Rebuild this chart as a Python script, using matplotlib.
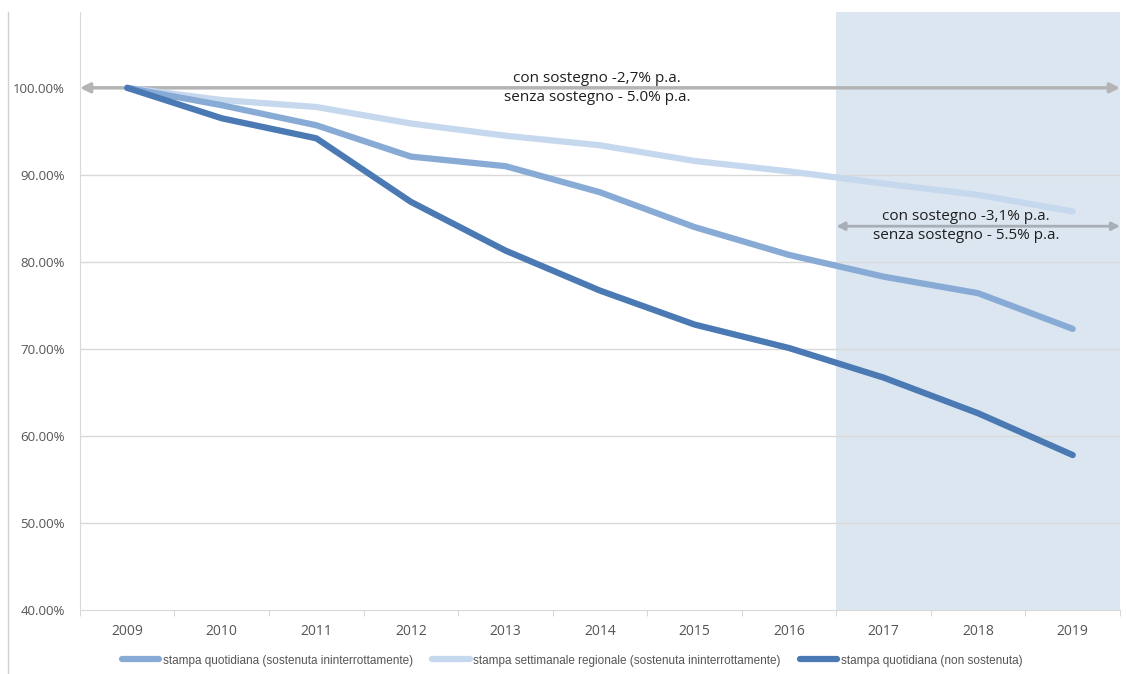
import numpy as np
import matplotlib
matplotlib.use('Agg')
import matplotlib.pyplot as plt
from matplotlib.lines import Line2D
from matplotlib.ticker import FuncFormatter, FixedLocator

# Data (index 2009 = 100%)
anni = ['2009', '2010', '2011', '2012', '2013', '2014', '2015', '2016', '2017', '2018', '2019']
quot_sost = [100.0, 98.0, 95.7, 92.1, 91.0, 88.0, 84.0, 80.8, 78.3, 76.4, 72.3]
sett_sost = [100.0, 98.6, 97.8, 95.9, 94.5, 93.4, 91.6, 90.4, 89.0, 87.7, 85.8]
quot_non = [100.0, 96.5, 94.2, 86.9, 81.3, 76.7, 72.8, 70.1, 66.7, 62.6, 57.8]

etichette = ['stampa quotidiana (sostenuta ininterrottamente)',
             'stampa settimanale regionale (sostenuta ininterrottamente)',
             'stampa quotidiana (non sostenuta)']
colori = ['#88abd6', '#c6d8ed', '#4a79b3']

testo_tutto = 'con sostegno -2,7% p.a.\nsenza sostegno - 5.0% p.a.'
testo_ultimi = 'con sostegno -3,1% p.a.\nsenza sostegno - 5.5% p.a.'
livello_freccia2 = 84.1

plt.rcParams['font.family'] = ['Open Sans', 'DejaVu Sans']

fig = plt.figure(figsize=(11.26, 6.74), dpi=100)
ax = fig.add_axes([0.071, 0.095, 0.9237, 0.887])

x = np.arange(len(anni))

# shaded period 2017-2019
ax.axvspan(7.5, 10.5, color='#dce6f0', zorder=0, lw=0)

# gridlines
for g in [50, 60, 70, 80, 90]:
    ax.axhline(g, color='#d9d9d9', lw=1, zorder=1)

l1, = ax.plot(x, quot_sost, color=colori[0], lw=4.5, solid_capstyle='round', zorder=4, label=etichette[0])
l2, = ax.plot(x, sett_sost, color=colori[1], lw=4.5, solid_capstyle='round', zorder=3, label=etichette[1])
l3, = ax.plot(x, quot_non, color=colori[2], lw=4.5, solid_capstyle='round', zorder=5, label=etichette[2])

# arrows
ax.annotate('', xy=(-0.5, 100), xytext=(10.5, 100),
            arrowprops=dict(arrowstyle='<|-|>', color='#b4b4b4', lw=2.5,
                            shrinkA=0, shrinkB=0, mutation_scale=14), zorder=2)
ax.text(4.97, 100, testo_tutto, ha='center', va='center', fontsize=11,
        color='#1e1e1e', linespacing=1.35, zorder=6)

ax.annotate('', xy=(7.5, livello_freccia2), xytext=(10.5, livello_freccia2),
            arrowprops=dict(arrowstyle='<|-|>', color='#a8aeb5', lw=2,
                            shrinkA=0, shrinkB=0, mutation_scale=12), zorder=6)
ax.text(8.87, livello_freccia2, testo_ultimi, ha='center', va='center', fontsize=11,
        color='#1e1e1e', linespacing=1.35, zorder=7)

ax.set_xlim(-0.5, 10.5)
ax.set_ylim(40, 108.7)
ax.set_xticks(x)
ax.set_xticklabels(anni)
ax.xaxis.set_minor_locator(FixedLocator(np.arange(-0.5, 11, 1)))
ax.set_yticks([40, 50, 60, 70, 80, 90, 100])
ax.yaxis.set_major_formatter(FuncFormatter(lambda v, p: '%.2f%%' % v))

ax.tick_params(axis='x', which='major', length=0, pad=10, labelsize=10, labelcolor='#555555')
ax.tick_params(axis='x', which='minor', length=4, color='#d0d0d0')
ax.tick_params(axis='y', length=0, pad=11, labelsize=9.5, labelcolor='#555555')

for s in ['top', 'right']:
    ax.spines[s].set_visible(False)
ax.spines['left'].set_color('#d9d9d9')
ax.spines['bottom'].set_color('#d9d9d9')

leg = fig.legend(handles=[l1, l2, l3], loc='center', bbox_to_anchor=(0.508, 0.02),
                 ncol=3, frameon=False, handlelength=3.2,
                 handletextpad=0.3, columnspacing=1.6,
                 prop={'family': ['Liberation Sans', 'DejaVu Sans'], 'size': 8.5})
for t in leg.get_texts():
    t.set_color('#555555')

# outer frame line on left
fig.add_artist(Line2D([0.007, 0.007], [0.0, 0.982], color='#d0d0d0', lw=1))

fig.savefig('out.png', dpi=100)
